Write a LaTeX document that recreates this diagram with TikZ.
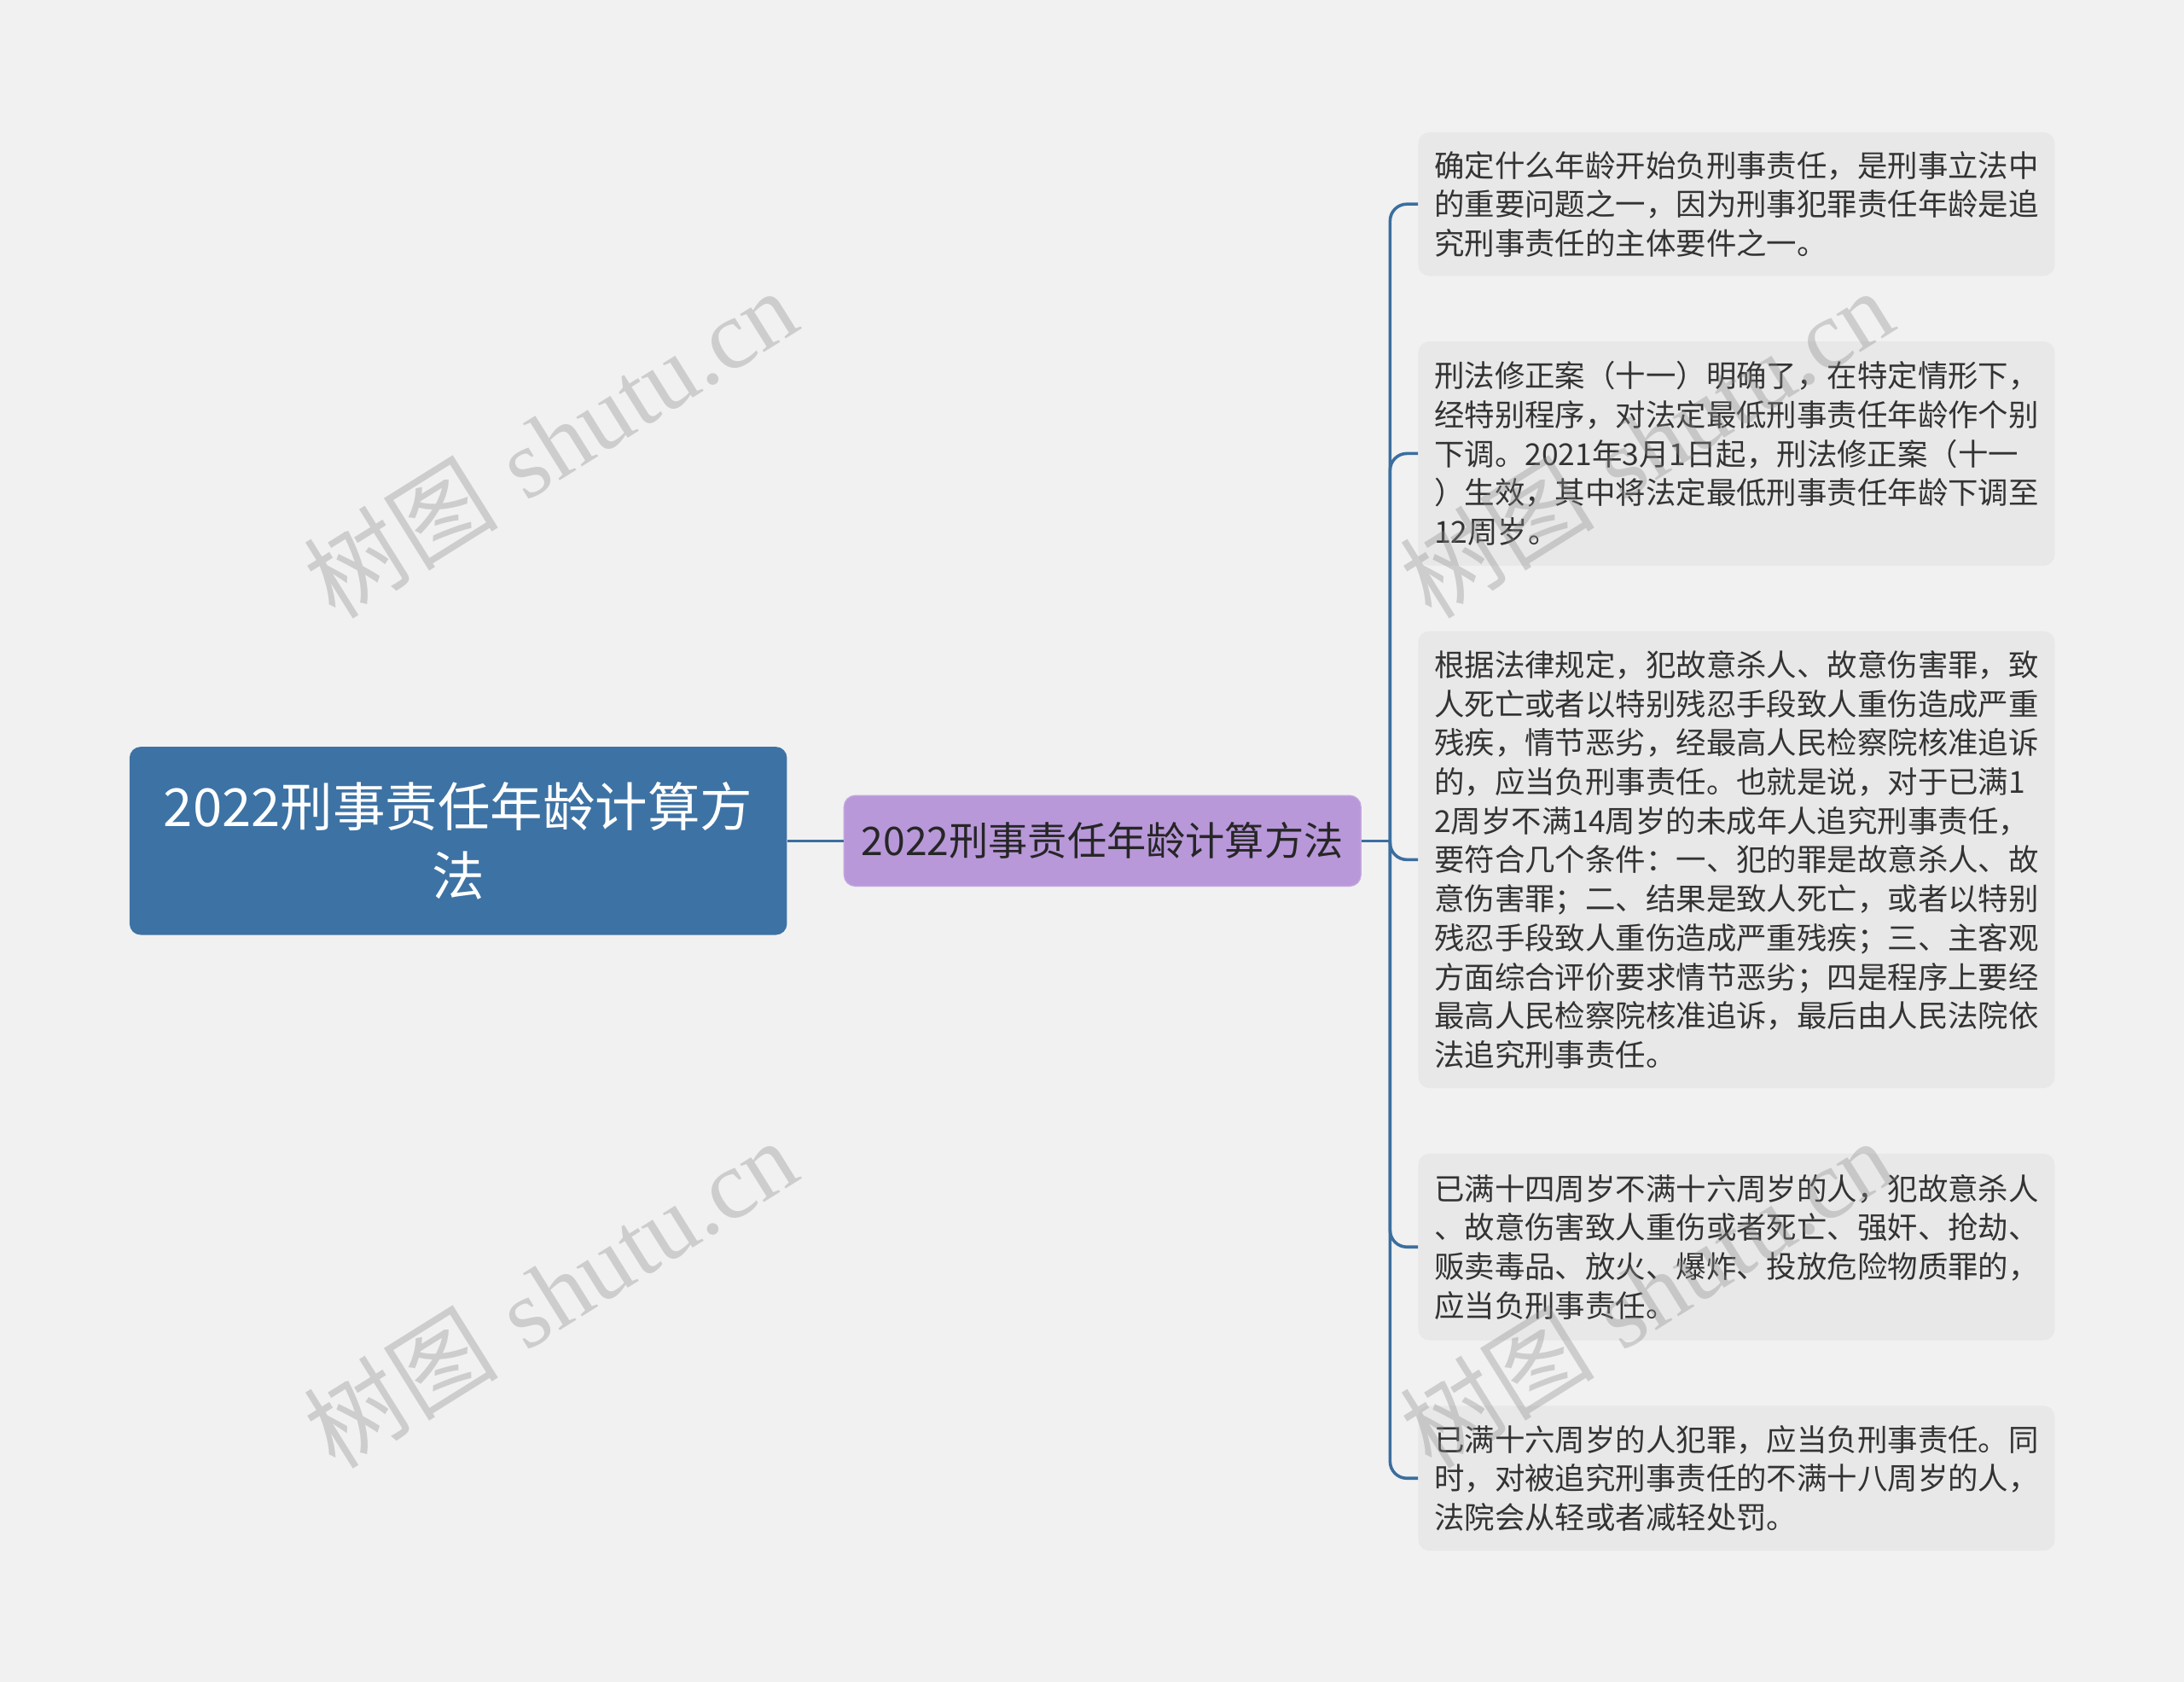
\documentclass[tikz,border=0pt]{standalone}
\usepackage{fontspec}
\newfontfamily\cjk{Noto Sans CJK SC}
\newfontfamily\wmlatin{Liberation Serif}
\definecolor{bgc}{HTML}{F1F1F1}
\definecolor{rootc}{HTML}{3D72A4}
\definecolor{midc}{HTML}{B898D9}
\definecolor{leafc}{HTML}{E8E8E8}
\definecolor{linec}{HTML}{3B6E9F}
\definecolor{txtc}{HTML}{333333}
\definecolor{wmc}{HTML}{8A8A8A}
\tikzset{
  rootbox/.style={fill=rootc, rounded corners=8pt, minimum width=472pt, minimum height=135pt,
    text=white, align=center, inner sep=0pt, font=\cjk\fontsize{37.7}{50}\selectfont},
  midbox/.style={fill=midc, draw=midc!85!white, line width=0.8pt, rounded corners=8pt, minimum width=371pt, minimum height=65pt,
    text=black!85, align=center, inner sep=0pt, font=\cjk\fontsize{28.3}{34}\selectfont},
  leafbox/.style={fill=leafc, rounded corners=8pt, minimum width=457pt, anchor=west,
    text=txtc, align=left, text width=434pt, inner xsep=11.5pt, inner ysep=0pt,
    font=\cjk\fontsize{21.7}{28}\selectfont},
  conn/.style={draw=linec, line width=2.2pt, rounded corners=12pt},
  wm/.style={text=wmc, text opacity=0.35, rotate=32, inner sep=0pt, font=\fontsize{70}{70}\selectfont}
}
\begin{document}
\begin{tikzpicture}[x=1pt,y=-1pt]
\fill[bgc] (0,0) rectangle (1568,1207);
\useasboundingbox (0,0) rectangle (1568,1207);

\node[rootbox] (root) at (329,603.5) {2022刑事责任年龄计算方\\法};
\node[midbox] (mid) at (791.5,603.5) {2022刑事责任年龄计算方法};

\node[leafbox, minimum height=103pt] (l1) at (1018,146.5) {确定什么年龄开始负刑事责任，是刑事立法中\\的重要问题之一，因为刑事犯罪责任年龄是追\\究刑事责任的主体要件之一。};
\node[leafbox, minimum height=161pt] (l2) at (1018,325.5) {刑法修正案（十一）明确了，在特定情形下，\\经特别程序，对法定最低刑事责任年龄作个别\\下调。2021年3月1日起，刑法修正案（十一\\）生效，其中将法定最低刑事责任年龄下调至\\12周岁。};
\node[leafbox, minimum height=328pt] (l3) at (1018,617) {根据法律规定，犯故意杀人、故意伤害罪，致\\人死亡或者以特别残忍手段致人重伤造成严重\\残疾，情节恶劣，经最高人民检察院核准追诉\\的，应当负刑事责任。也就是说，对于已满1\\2周岁不满14周岁的未成年人追究刑事责任，\\要符合几个条件：一、犯的罪是故意杀人、故\\意伤害罪；二、结果是致人死亡，或者以特别\\残忍手段致人重伤造成严重残疾；三、主客观\\方面综合评价要求情节恶劣；四是程序上要经\\最高人民检察院核准追诉，最后由人民法院依\\法追究刑事责任。};
\node[leafbox, minimum height=134pt] (l4) at (1018,895) {已满十四周岁不满十六周岁的人，犯故意杀人\\、故意伤害致人重伤或者死亡、强奸、抢劫、\\贩卖毒品、放火、爆炸、投放危险物质罪的，\\应当负刑事责任。};
\node[leafbox, minimum height=104pt] (l5) at (1018,1061) {已满十六周岁的人犯罪，应当负刑事责任。同\\时，对被追究刑事责任的不满十八周岁的人，\\法院会从轻或者减轻处罚。};

\coordinate (j) at (998,603.5);
\draw[conn] (root.east) -- (mid.west);
\draw[conn] (mid.east) -- (j);
\foreach \n in {l1,l2,l3,l4,l5}{
  \draw[conn] (j) |- (\n.west);
}

\node[wm] (w1) at (395,318) {{\cjk 树图} {\wmlatin shutu.cn}};
\node[wm] (w2) at (395,928) {{\cjk 树图} {\wmlatin shutu.cn}};
\node[wm] (w3) at (1182,318) {{\cjk 树图} {\wmlatin shutu.cn}};
\node[wm] (w4) at (1182,928) {{\cjk 树图} {\wmlatin shutu.cn}};
\end{tikzpicture}
\end{document}
